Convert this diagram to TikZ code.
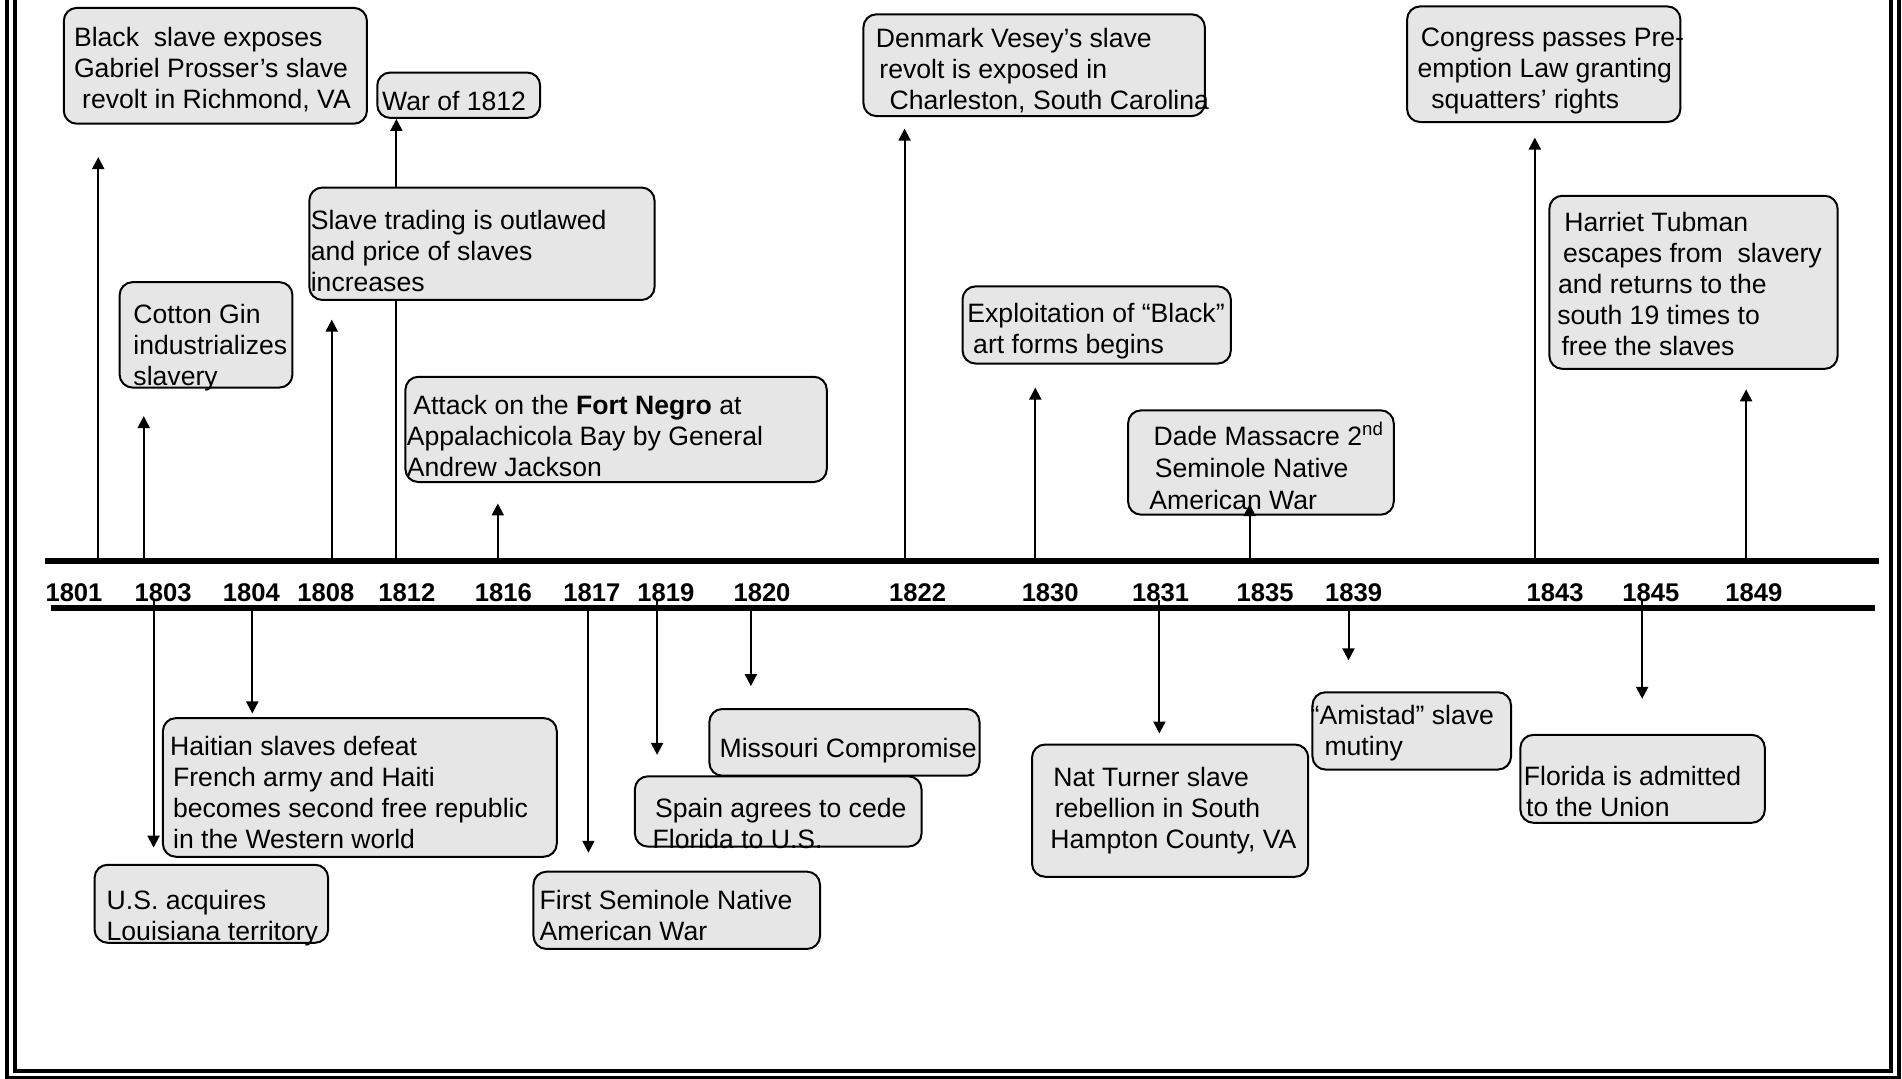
\documentclass[tikz,border=0pt]{standalone}
\usepackage{fontspec}
\setmainfont{Liberation Sans}
\usetikzlibrary{arrows.meta,fit}
\pgfdeclarelayer{bg}
\pgfsetlayers{bg,main}
\definecolor{boxgray}{RGB}{230,230,230}
\newcommand{\evfont}{\fontsize{13.3pt}{15.5pt}\selectfont}
\newcommand{\yrfont}{\bfseries\fontsize{12.8pt}{15pt}\selectfont}
\tikzset{
  evbox/.style={draw=black, line width=1pt, fill=boxgray, rounded corners=6.5pt, inner sep=0pt},
  evtext/.style={font=\evfont, align=left, inner sep=0pt, anchor=north west, yshift=-1.3pt, execute at begin node=\strut},
  yearlbl/.style={font=\yrfont, inner sep=0pt, anchor=base},
  evarrow/.style={line width=1pt, -{Triangle[length=6pt,width=6pt]}},
  axisline/.style={line width=3pt},
  frameline/.style={line width=2pt},
}
\begin{document}
\begin{tikzpicture}[x=0.6065pt,y=-0.6065pt]
\useasboundingbox (0,0) rectangle (1568,889.5);
\clip (0,0) rectangle (1568,889.5);

% double frame (open at the top)
\draw[frameline] (5.8,-20) -- (5.8,888.7) -- (1565.6,888.7) -- (1565.6,-20);
\draw[frameline] (12.4,-20) -- (12.4,883) -- (1559,883) -- (1559,-20);

% time axis
\draw[axisline] (37,462.6) -- (1549,462.6);
\draw[axisline] (42,501.1) -- (1546,501.1);

% years
\node[yearlbl] (y1801) at (61,496) {1801};
\node[yearlbl] (y1803) at (134.4,496) {1803};
\node[yearlbl] (y1804) at (207.2,496) {1804};
\node[yearlbl] (y1808) at (268.7,496) {1808};
\node[yearlbl] (y1812) at (335.5,496) {1812};
\node[yearlbl] (y1816) at (415,496) {1816};
\node[yearlbl] (y1817) at (488,496) {1817};
\node[yearlbl] (y1819) at (549,496) {1819};
\node[yearlbl] (y1820) at (628.2,496) {1820};
\node[yearlbl] (y1822) at (756.5,496) {1822};
\node[yearlbl] (y1830) at (865.8,496) {1830};
\node[yearlbl] (y1831) at (956.8,496) {1831};
\node[yearlbl] (y1835) at (1042.9,496) {1835};
\node[yearlbl] (y1839) at (1115.9,496) {1839};
\node[yearlbl] (y1843) at (1282,496) {1843};
\node[yearlbl] (y1845) at (1361,496) {1845};
\node[yearlbl] (y1849) at (1445.9,496) {1849};

% boxes (upper)
\node[evbox, fit={(52.6,6.5) (302.5,102)}] (bBlack) {};
\node[evbox, fit={(311,59.8) (445.3,97.2)}] (bWar) {};
\node[evbox, fit={(255,154.6) (539.6,247.3)}] (bSlave) {};
\node[evbox, fit={(98.6,232.6) (241.1,319.5)}] (bCotton) {};
\node[evbox, fit={(334.2,310.6) (681.6,397.4)}] (bFort) {};
\node[evbox, fit={(711.8,11.8) (993.3,95.7)}] (bDen) {};
\node[evbox, fit={(793.5,236.1) (1014.7,299.7)}] (bExp) {};
\node[evbox, fit={(930,338.3) (1149,424.3)}] (bDade) {};
\node[evbox, fit={(1160,5.3) (1385.3,100.6)}] (bCong) {};
\node[evbox, fit={(1277.3,161.4) (1514.9,304.1)}] (bHarr) {};
% boxes (lower)
\node[evbox, fit={(78,712.9) (270.5,777.2)}] (bUS) {};
\node[evbox, fit={(134.3,592) (459,706.3)}] (bHai) {};
\node[evbox, fit={(439.8,718.6) (676,782.3)}] (bFirst) {};
\node[evbox, fit={(523.4,640) (759.7,697.9)}] (bSpain) {};
\node[evbox, fit={(584.8,584.5) (807.5,639.5)}] (bMiss) {};
\node[evbox, fit={(850.8,613.8) (1078.5,722.8)}] (bNat) {};
\node[evbox, fit={(1082,570.7) (1245.7,634.4)}] (bAmi) {};
\node[evbox, fit={(1253.4,605.8) (1454.9,678.3)}] (bFlo) {};

% texts
\node[evtext] (tBlack) at (60.7,19.9) {Black\ \ slave exposes\\Gabriel Prosser’s slave\\\hspace*{4.1pt}revolt in Richmond, VA};
\node[evtext] (tWar) at (314.7,70.5) {War of 1812};
\node[evtext] (tSlave) at (255.9,170.6) {Slave trading is outlawed\\and price of slaves\\increases};
\node[evtext] (tCotton) at (109.7,248.7) {Cotton Gin\\industrializes\\slavery};
\node[evtext] (tFort) at (335,323.7) {\hspace*{3.3pt}Attack on the \textbf{Fort Negro} at\\Appalachicola Bay by General\\Andrew Jackson};
\node[evtext] (tDen) at (721.7,20.4) {Denmark Vesey’s slave\\\hspace*{1.8pt}revolt is exposed in\\\hspace*{6.9pt}Charleston, South Carolina};
\node[evtext] (tExp) at (797.2,247.2) {Exploitation of “Black”\\\hspace*{2.9pt}art forms begins};
\node[evtext] (tDade) at (947.3,349.1) {\hspace*{2.1pt}Dade Massacre 2\smash{\textsuperscript{nd}}\\[0.4pt]\hspace*{2.7pt}Seminole Native\\[0.4pt]American War};
\node[evtext] (tCong) at (1168.3,20.4) {\hspace*{1.7pt}Congress passes Pre-\\emption Law granting\\\hspace*{6.9pt}squatters’ rights};
\node[evtext] (tHarr) at (1283.5,172.1) {\hspace*{3.5pt}Harriet Tubman\\\hspace*{2.9pt}escapes from\ \ slavery\\\hspace*{0.4pt}and returns to the\\south 19 times to\\\hspace*{2.1pt}free the slaves};
\node[evtext] (tUS) at (87.6,731.1) {U.S. acquires\\Louisiana territory};
\node[evtext] (tHai) at (139.9,604.5) {Haitian slaves defeat\\\hspace*{1.5pt}French army and Haiti\\\hspace*{1.5pt}becomes second free republic\\\hspace*{1.5pt}in the Western world};
\node[evtext] (tFirst) at (444.6,731.1) {First Seminole Native\\American War};
\node[evtext] (tSpain) at (537.7,655.4) {\hspace*{1.2pt}Spain agrees to cede\\Florida to U.S.};
\node[evtext] (tMiss) at (592.9,604.5) {Missouri Compromise};
\node[evtext] (tNat) at (865.6,630) {\hspace*{1.5pt}Nat Turner slave\\\hspace*{2.2pt}rebellion in South\\Hampton County, VA};
\node[evtext] (tAmi) at (1080.2,578.9) {“Amistad” slave\\\hspace*{6.9pt}mutiny};
\node[evtext] (tFlo) at (1256,629.1) {Florida is admitted\\\hspace*{1.1pt}to the Union};

% arrow end points
\coordinate (u1801t) at (81,462.6);     \coordinate (u1801h) at (81,129.5);
\coordinate (u1803t) at (118.5,462.6);  \coordinate (u1803h) at (118.5,343);
\coordinate (u1808t) at (273.5,462.6);  \coordinate (u1808h) at (273.5,263.5);
\coordinate (u1812t) at (326.8,462.6);
\coordinate (u1816t) at (410.4,462.6);  \coordinate (u1816h) at (410.4,415);
\coordinate (u1822t) at (745.7,462.6);  \coordinate (u1822h) at (745.7,106);
\coordinate (u1830t) at (853.5,462.6);  \coordinate (u1830h) at (853.5,319.5);
\coordinate (u1835t) at (1030.2,462.6); \coordinate (u1835h) at (1030.2,415.5);
\coordinate (u1843t) at (1265.3,462.6); \coordinate (u1843h) at (1265.3,113.4);
\coordinate (u1849t) at (1439.5,462.6); \coordinate (u1849h) at (1439.5,321);
\coordinate (d1803t) at (126.6,494.7);  \coordinate (d1803h) at (126.6,698.8);
\coordinate (d1804t) at (208,501.1);    \coordinate (d1804h) at (208,588.2);
\coordinate (d1817t) at (485.1,501.1);  \coordinate (d1817h) at (485.1,703);
\coordinate (d1819t) at (541.7,494.7);  \coordinate (d1819h) at (541.7,622.3);
\coordinate (d1820t) at (619,501.1);    \coordinate (d1820h) at (619,565.6);
\coordinate (d1831t) at (955.8,494.7);  \coordinate (d1831h) at (955.8,604.7);
\coordinate (d1839t) at (1111.7,501.1); \coordinate (d1839h) at (1111.7,544.4);
\coordinate (d1845t) at (1353.8,494.7); \coordinate (d1845h) at (1353.8,576.1);

\begin{pgfonlayer}{bg}
\draw[evarrow] (u1801t) -- (u1801h);
\draw[evarrow] (u1803t) -- (u1803h);
\draw[evarrow] (u1808t) -- (u1808h);
\draw[evarrow] (u1812t) -- (u1812t |- bWar.south);
\draw[evarrow] (u1816t) -- (u1816h);
\draw[evarrow] (u1822t) -- (u1822h);
\draw[evarrow] (u1830t) -- (u1830h);
\draw[evarrow] (u1843t) -- (u1843h);
\draw[evarrow] (u1849t) -- (u1849h);
\draw[evarrow] (d1803t) -- (d1803h);
\draw[evarrow] (d1804t) -- (d1804h);
\draw[evarrow] (d1817t) -- (d1817h);
\draw[evarrow] (d1819t) -- (d1819h);
\draw[evarrow] (d1820t) -- (d1820h);
\draw[evarrow] (d1831t) -- (d1831h);
\draw[evarrow] (d1839t) -- (d1839h);
\draw[evarrow] (d1845t) -- (d1845h);
\end{pgfonlayer}
\draw[evarrow] (u1835t) -- (u1835h);
\end{tikzpicture}
\end{document}
